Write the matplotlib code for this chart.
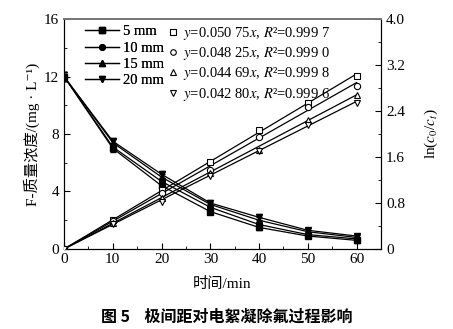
import numpy as np
import matplotlib.pyplot as plt
from matplotlib.ticker import MultipleLocator

plt.rcParams['font.family'] = ['Liberation Serif', 'Noto Sans CJK SC', 'DejaVu Serif']
plt.rcParams['mathtext.fontset'] = 'stix'
plt.rcParams['font.size'] = 10.5

# 时间 (min)
t = [0, 10, 20, 30, 40, 50, 60]
gaps = ['5 mm', '10 mm', '15 mm', '20 mm']

# F- 质量浓度 (mg/L)
conc = {
    '5 mm':  [12.0, 7.0, 4.4, 2.6, 1.5, 0.9, 0.6],
    '10 mm': [12.0, 7.1, 4.7, 2.9, 1.7, 1.0, 0.7],
    '15 mm': [12.0, 7.4, 5.0, 3.1, 2.0, 1.2, 0.8],
    '20 mm': [12.0, 7.5, 5.2, 3.2, 2.2, 1.3, 0.9],
}
conc_err = [0.3, 0.25, 0.25, 0.2, 0.2, 0.15, 0.15]

# ln(c0/ct)
lnr = {
    '5 mm':  [0, 0.51, 1.02, 1.51, 2.07, 2.54, 3.01],
    '10 mm': [0, 0.49, 0.98, 1.37, 1.95, 2.47, 2.83],
    '15 mm': [0, 0.45, 0.88, 1.32, 1.72, 2.24, 2.68],
    '20 mm': [0, 0.43, 0.82, 1.27, 1.70, 2.16, 2.54],
}
slopes = [0.05075, 0.04825, 0.04469, 0.04280]
slope_txt = ['0.050 75', '0.048 25', '0.044 69', '0.042 80']
r2_txt = ['0.999 7', '0.999 0', '0.999 8', '0.999 6']

filled = ['s', 'o', '^', 'v']

fig = plt.figure(figsize=(4.53, 3.29), dpi=100)
ax = fig.add_axes([0.1413, 0.2432, 0.6998, 0.699])
ax2 = ax.twinx()

h1, h2 = [], []
for g, m, k in zip(gaps, filled, slopes):
    eb = ax.errorbar(t, conc[g], yerr=conc_err, color='black', marker=m, ms=4,
                     lw=0.9, capsize=2, elinewidth=0.7, zorder=3)
    h1.append(eb[0])
    ax2.plot(t, lnr[g], ls='none', marker=m, ms=4.5, mfc='white', mec='black',
             mew=0.8, zorder=3)
    tt = np.array([0, 60])
    ax2.plot(tt, k * tt, color='black', lw=0.9, zorder=2)
    h2.append(plt.Line2D([], [], ls='none', marker=m, ms=4, mfc='white',
                         mec='black', mew=0.8))

ax.set_xlim(0, 65)
ax.set_ylim(0, 16)
ax.xaxis.set_major_locator(MultipleLocator(10))
ax.xaxis.set_minor_locator(MultipleLocator(5))
ax.yaxis.set_major_locator(MultipleLocator(4))
ax.yaxis.set_minor_locator(MultipleLocator(2))
rticks = [0, 0.8, 1.6, 2.4, 3.2, 4.0]
ax2.set_yticks(rticks)
ax2.set_yticklabels([f'{v:.1f}' if v > 0 else '0' for v in rticks])
ax2.yaxis.set_minor_locator(MultipleLocator(0.4))
ax2.set_ylim(0, 4.0)

for a in (ax, ax2):
    a.tick_params(which='both', direction='in', labelsize=11)
    a.tick_params(which='major', length=4)
    a.tick_params(which='minor', length=2.5)
    a.spines['top'].set_color('#777777')
    a.spines['top'].set_linewidth(1.4)
ax.tick_params(axis='x', pad=3)

ax.set_xlabel('时间/min', fontsize=11, labelpad=8)
ax.set_ylabel('F-质量浓度/(mg · L⁻¹)', fontsize=11, labelpad=3)
ax2.set_ylabel(r'ln($c_0$/$c_t$)', fontsize=11, labelpad=13)

# 两列图例分开放置,保证行距一致
leg1 = ax.legend(h1, gaps, loc='upper left', bbox_to_anchor=(0.04, 1.012),
                 frameon=False, fontsize=10.5, handlelength=2.3,
                 handletextpad=0.3, labelspacing=0.22, borderaxespad=0.2)
ax.add_artist(leg1)
labels2 = [f'$y$={s}$x$, $R$²={r}' for s, r in zip(slope_txt, r2_txt)]
leg2 = ax2.legend(h2, labels2, loc='upper left', bbox_to_anchor=(0.297, 1.012),
                  frameon=False, fontsize=10.5, handlelength=0.8,
                  handletextpad=0.3, labelspacing=0.22, borderaxespad=0.2)

fig.text(0.5, 0.022, '图 5    极间距对电絮凝除氟过程影响', ha='center',
         fontsize=11.5, fontweight='bold', family=['Noto Sans CJK SC'])

fig.savefig('out.png', dpi=100)
